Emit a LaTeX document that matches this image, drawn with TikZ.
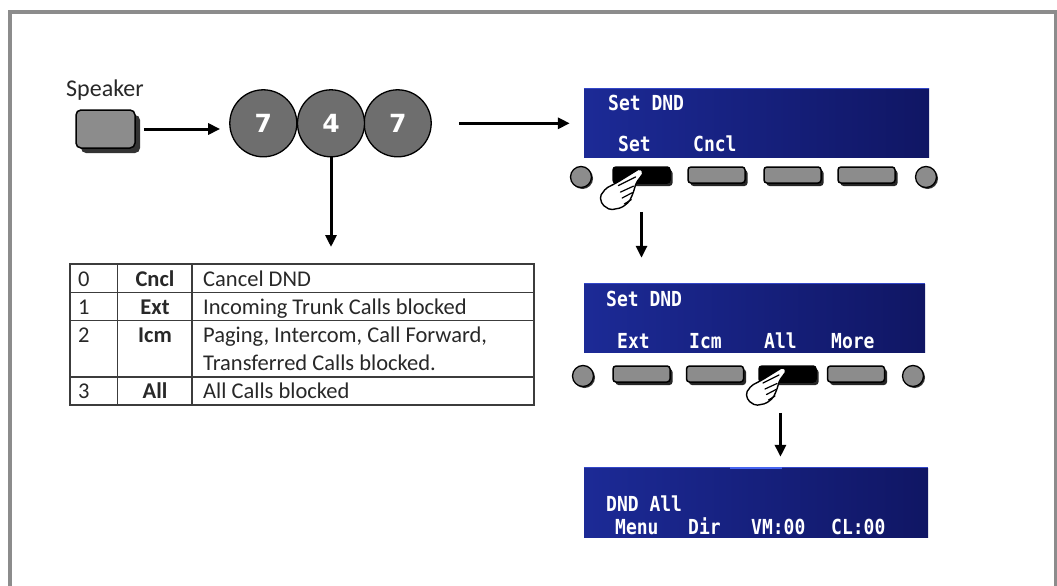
\documentclass[tikz,border=0pt]{standalone}
\usepackage{graphicx}
\usepackage{fontspec}
\setmainfont{Carlito}
\newfontfamily\lcdfont{DejaVu Sans Mono}
\newfontfamily\digitfont{DejaVu Sans}
\usetikzlibrary{arrows.meta,shadows,calc}
\definecolor{btngray}{RGB}{140,140,140}
\definecolor{keygray}{RGB}{110,110,110}
\definecolor{framegray}{RGB}{140,140,140}
\definecolor{lcdleft}{RGB}{28,42,150}
\definecolor{lcdright}{RGB}{16,22,100}
\definecolor{lcdedge}{RGB}{50,70,200}
\definecolor{lcdhi}{RGB}{70,100,240}
\definecolor{tblline}{RGB}{60,60,60}
\definecolor{tbltext}{RGB}{40,40,40}
\newcommand{\lcdtxt}[1]{\scalebox{1}[1.15]{#1}}
\begin{document}
\begin{tikzpicture}[x=1pt,y=-1pt,
  arr/.style={line width=3pt,-{Triangle[length=12pt,width=11pt]}},
  numkey/.style={circle,draw=black,line width=1.3pt,fill=keygray,minimum size=67pt,inner sep=0pt,
    font=\digitfont\bfseries\fontsize{25}{25}\selectfont,text=white},
  spk/.style={rectangle,rounded corners=5pt,minimum width=59pt,minimum height=38pt,draw=black,
    line width=1.5pt,fill=btngray,drop shadow={shadow xshift=5pt,shadow yshift=-5pt,fill=black!80,opacity=1}},
  softkey/.style={rectangle,rounded corners=3pt,minimum width=57pt,minimum height=16pt,inner sep=0pt,
    draw=black,line width=1.5pt,fill=btngray,drop shadow={shadow xshift=2.5pt,shadow yshift=-3pt,fill=black!85,opacity=1}},
  pressed/.style={softkey,fill=black},
  endbtn/.style={circle,draw=black,line width=1.3pt,fill=btngray,minimum size=21pt,inner sep=0pt,
    drop shadow={shadow xshift=1.5pt,shadow yshift=-1.5pt,fill=black!80,opacity=1}},
  lcd/.style={rectangle,inner sep=0pt,left color=lcdleft,right color=lcdright},
  lcdlabel/.style={text=white,font=\lcdfont\bfseries\fontsize{18}{18}\selectfont,anchor=base west,inner sep=0pt},
  tbl/.style={draw=tblline,line width=1.3pt},
  tbltxt/.style={text=tbltext,font=\fontsize{22.5}{22.5}\selectfont,anchor=base west,inner sep=0pt},
  tblkey/.style={text=tbltext,font=\bfseries\fontsize{22.5}{22.5}\selectfont,anchor=base,inner sep=0pt},
  hand/.pic={
    \draw[fill=white,line width=1.4pt,line join=round,rounded corners=2pt]
      (-1,-2) -- (-22,11) -- (-32.5,16.5) -- (-38,24) -- (-36,31.5) -- (-28.5,36.5)
      -- (-18,34.5) -- (-11,29) -- (-7.5,21.5) -- (-4.5,11.5) -- (2.5,2) -- cycle;
    \draw[line width=1.2pt,line cap=round] (-21,14) -- (-5,6) (-19,20) -- (-7,14.5) (-17.5,25.5) -- (-8,20.5) (-15.5,31) -- (-9,27);
  }
]
\useasboundingbox (0,0) rectangle (1057,586);
\clip (0,0) rectangle (1057,586);
\fill[white] (0,0) rectangle (1057,586);
\draw[line width=4pt,framegray] (10,12) rectangle (1056,640);

% speaker and keys
\node[tbltxt,font=\fontsize{24}{24}\selectfont] (splbl) at (66,96.7) {Speaker};
\node[spk] (sp) at (105.5,129) {};
\node[numkey] (c1) at (263.3,123.3) {7};
\node[numkey] (c3) at (397.7,123.3) {7};
\node[numkey] (c2) at (331,123.3) {4};

\draw[arr,shorten <=8pt,shorten >=9pt] (sp.east) -- (sp.east -| c1.west);

% screens
\node[lcd,minimum width=345pt,minimum height=69pt] (s1) at (756.5,122.7) {};
\node[lcd,minimum width=341pt,minimum height=68pt] (s2) at (754.5,318) {};
\node[lcd,minimum width=344pt,minimum height=69pt] (s3) at (756,502.5) {};
\draw[lcdedge,line width=1pt] (s1.north west) -- (s1.north east);
\draw[lcdedge,line width=1pt] (s2.north west) -- (s2.north east);
\draw[lcdedge,line width=1pt] (s3.north west) -- (s3.north east);
\draw[lcdhi,line width=2pt] ($(s3.north west)+(146,0)$) -- ++(52,0);

\draw[arr,shorten <=27pt,shorten >=14pt] (c3.east) -- (c3.east -| s1.west);

% screen 1 texts
\node[lcdlabel] (t1a) at (608,110) {\lcdtxt{Set DND}};
\node[lcdlabel] (t1b) at (618,151) {\lcdtxt{Set}};
\node[lcdlabel] (t1c) at (693,151) {\lcdtxt{Cncl}};

% screen 1 buttons
\node[endbtn] (e1l) at (581,177) {};
\node[pressed] (b1) at (641.5,175) {};
\node[softkey] (b2) at (716.5,175) {};
\node[softkey] (b3) at (792.5,175) {};
\node[softkey] (b4) at (866.5,175) {};
\node[endbtn] (e1r) at (926,177) {};
\pic[scale=1.08] at (641,170.5) {hand};

\draw[arr,shorten <=28pt,shorten >=26pt] (b1.south) -- (b1.south |- s2.north);

% screen 2 texts
\node[lcdlabel] (t2a) at (606,306.7) {\lcdtxt{Set DND}};
\node[lcdlabel] (t2b) at (617,348) {\lcdtxt{Ext}};
\node[lcdlabel] (t2c) at (689,348) {\lcdtxt{Icm}};
\node[lcdlabel] (t2d) at (764,348) {\lcdtxt{All}};
\node[lcdlabel] (t2e) at (831,348) {\lcdtxt{More}};

% screen 2 buttons
\node[endbtn] (e2l) at (583,376) {};
\node[softkey] (b5) at (641.5,374) {};
\node[softkey] (b6) at (715,374) {};
\node[pressed] (b7) at (787.5,374) {};
\node[softkey] (b8) at (856,374) {};
\node[endbtn] (e2r) at (913,376) {};
\pic[scale=1.0] at (784,369) {hand};

\draw[arr,shorten <=30pt,shorten >=11pt] (t2d.south |- b7.south) -- (t2d.south |- s3.north);

% screen 3 texts
\node[lcdlabel] (t3a) at (606,511) {\lcdtxt{DND All}};
\node[lcdlabel] (t3b) at (615,534) {\lcdtxt{Menu}};
\node[lcdlabel] (t3c) at (688,534) {\lcdtxt{Dir}};
\node[lcdlabel] (t3d) at (751,534) {\lcdtxt{VM:00}};
\node[lcdlabel] (t3e) at (831,534) {\lcdtxt{CL:00}};

% table
\coordinate (tt) at (331,264);
\draw[arr,shorten >=17pt] (c2.south) -- (tt);
\draw[tbl] (70,264) rectangle (534,405);
\draw[tbl] (70,292.7) -- (534,292.7) (70,320.7) -- (534,320.7) (70,377) -- (534,377);
\draw[tbl] (117.7,264) -- (117.7,405) (192,264) -- (192,405);

\node[tbltxt] (n0) at (78,286) {0};
\node[tbltxt] (n1) at (78,314) {1};
\node[tbltxt] (n2) at (78,342.3) {2};
\node[tbltxt] (n3) at (78,398.3) {3};
\node[tblkey] (k0) at (155,286) {Cncl};
\node[tblkey] (k1) at (155,314) {Ext};
\node[tblkey] (k2) at (155,342.3) {Icm};
\node[tblkey] (k3) at (155,398.3) {All};
\node[tbltxt] (d0) at (203,286) {Cancel DND};
\node[tbltxt] (d1) at (203,314) {Incoming Trunk Calls blocked};
\node[tbltxt] (d2) at (203,342.3) {Paging, Intercom, Call Forward,};
\node[tbltxt] (d2b) at (203,370.7) {Transferred Calls blocked.};
\node[tbltxt] (d3) at (203,398.3) {All Calls blocked};
\end{tikzpicture}
\end{document}
